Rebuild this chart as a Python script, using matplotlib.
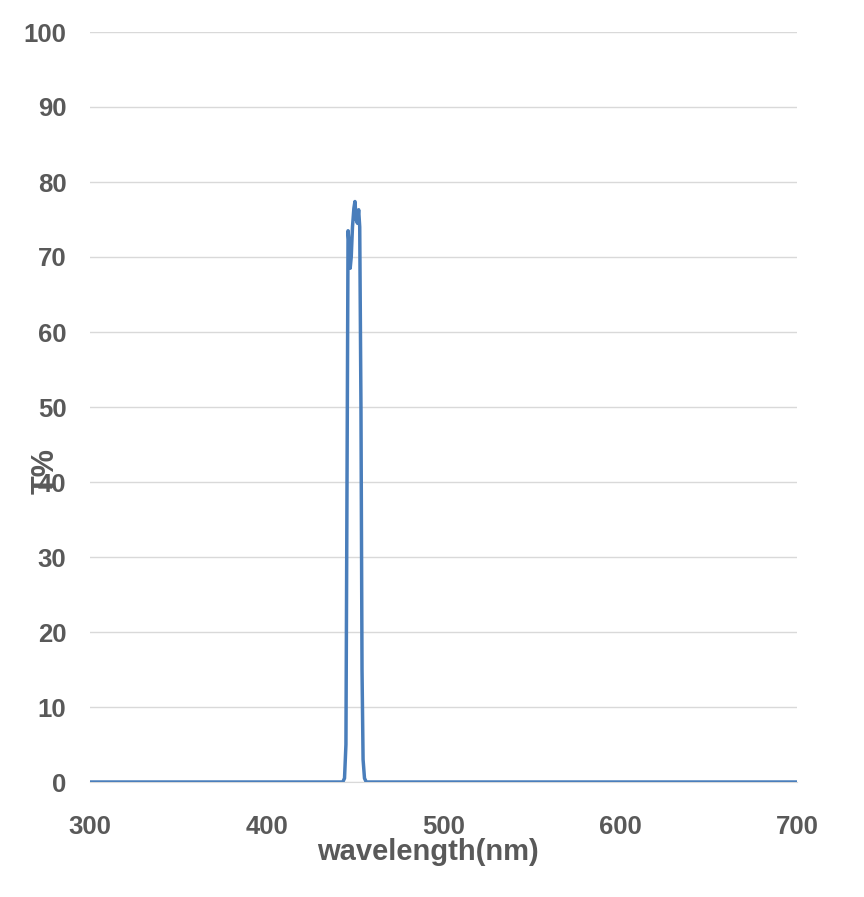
import matplotlib
matplotlib.use("Agg")
import matplotlib.pyplot as plt

wavelength = [300, 443.0, 444.0, 444.8, 445.5, 446.0, 446.5, 447.2, 447.8, 448.5, 449.3, 449.9,
              450.6, 451.3, 452.0, 452.6, 453.3, 453.9, 454.5, 455.3, 456.3, 700]
transmission = [0, 0, 0.5, 5, 45, 73.5, 72, 68.5, 70, 74, 76.5, 77.4,
                75, 74.5, 76.3, 74, 50, 15, 3, 0.5, 0, 0]
xticks = [300, 400, 500, 600, 700]
yticks = [0, 10, 20, 30, 40, 50, 60, 70, 80, 90, 100]

plt.rcParams['font.family'] = ['Liberation Sans', 'DejaVu Sans']
grey = '#595959'

fig = plt.figure(figsize=(8.64, 8.97), dpi=100)
ax = fig.add_axes([90/864, 1-782/897, (797-90)/864, (782-32)/897])
ax.plot(wavelength, transmission, color='#4a7ebb', lw=2.5, zorder=3, solid_joinstyle='round')
ax.set_xlim(300, 700)
ax.set_ylim(0, 100)
ax.set_xticks(xticks)
ax.set_yticks(yticks)
ax.grid(axis='y', color='#d9d9d9', lw=1)
ax.set_axisbelow(True)
for s in ['top', 'right', 'left']:
    ax.spines[s].set_visible(False)
ax.spines['bottom'].set_color('#d9d9d9')
ax.tick_params(length=0, labelsize=18.5, labelcolor=grey)
ax.tick_params(axis='x', pad=24)
ax.tick_params(axis='y', pad=17)
for lab in ax.get_xticklabels() + ax.get_yticklabels():
    lab.set_fontweight('bold')
fig.text(428/864, 1-852/897, 'wavelength(nm)', ha='center', va='center',
         fontsize=21, fontweight='bold', color=grey)
fig.text(46/864, 1-471/897, 'T%', ha='center', va='center', rotation=90,
         fontsize=22, fontweight='bold', color=grey)
fig.savefig('out.png', dpi=100)
